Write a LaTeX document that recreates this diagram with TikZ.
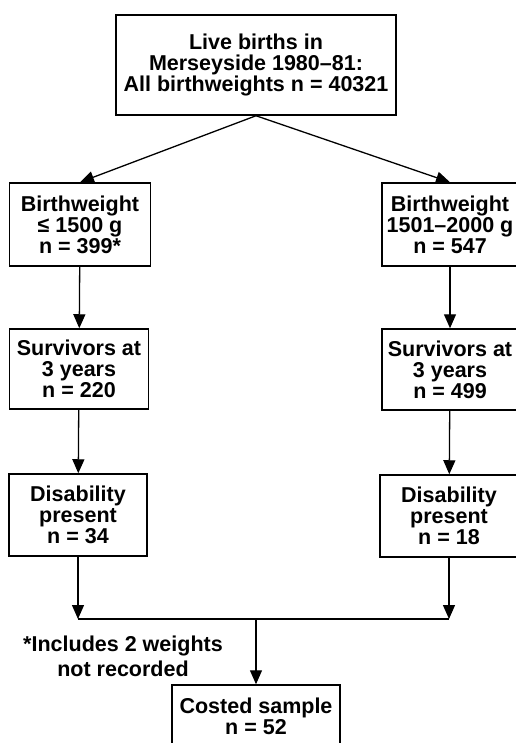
\documentclass[tikz,border=0pt]{standalone}
\usepackage{fontspec}
\setmainfont{Liberation Sans}
\usepackage{tikz}
\usetikzlibrary{arrows.meta,positioning}

\begin{document}
\begin{tikzpicture}[x=1pt,y=-1pt]
				\tikzstyle{Box}		= [draw, line width=1.5pt, align=center, inner sep=0pt, font=\fontsize{21.5}{21}\selectfont\bfseries]
				\tikzstyle{Flow}	= [line width=1.3pt, -{Triangle[length=14pt,width=12pt]}]
				\tikzstyle{Join}	= [line width=1.3pt]

				\useasboundingbox (0,0) rectangle (515,743);

				\node (top) at (256,65) [Box, minimum width=280pt, minimum height=100pt] {Live births in\\Merseyside 1980–81:\\All birthweights n = 40321};
				\node (bw1) at (80,224.5) [Box, minimum width=141pt, minimum height=83pt] {Birthweight\\≤ 1500 g\\n = 399*};
				\node (bw2) at (450,224.5) [Box, minimum width=136pt, minimum height=83pt] {Birthweight\\1501–2000 g\\n = 547};
				\node (sv1) at (79,369) [Box, minimum width=139pt, minimum height=80pt] {Survivors at\\3 years\\n = 220};
				\node (sv2) at (450,369.5) [Box, minimum width=136pt, minimum height=81pt] {Survivors at\\3 years\\n = 499};
				\node (ds1) at (78,515) [Box, minimum width=138pt, minimum height=82pt] {Disability\\present\\n = 34};
				\node (ds2) at (449,516) [Box, minimum width=138pt, minimum height=82pt] {Disability\\present\\n = 18};
				\node (cost) at (256,716) [Box, minimum width=168pt, minimum height=62pt] {Costed sample\\n = 52};
				\node (note) at (123,656) [align=center, font=\fontsize{21.5}{25}\selectfont\bfseries] {*Includes 2 weights\\not recorded};

				\coordinate (m1) at (ds1.south |- 0,619);
				\coordinate (m2) at (ds2.south |- 0,619);
				\coordinate (mc) at (cost.north |- 0,619);

				\draw [Flow] (top.south) to (bw1.north);
				\draw [Flow] (top.south) to (bw2.north);
				\draw [Flow] (bw1) to (sv1);
				\draw [Flow] (bw2) to (sv2);
				\draw [Flow] (sv1) to (ds1);
				\draw [Flow] (sv2) to (ds2);
				\draw [Flow] (ds1) to (m1);
				\draw [Flow] (ds2) to (m2);
				\draw [Join] (m1) to (m2);
				\draw [Flow] (mc) to (cost);
\end{tikzpicture}
\end{document}
